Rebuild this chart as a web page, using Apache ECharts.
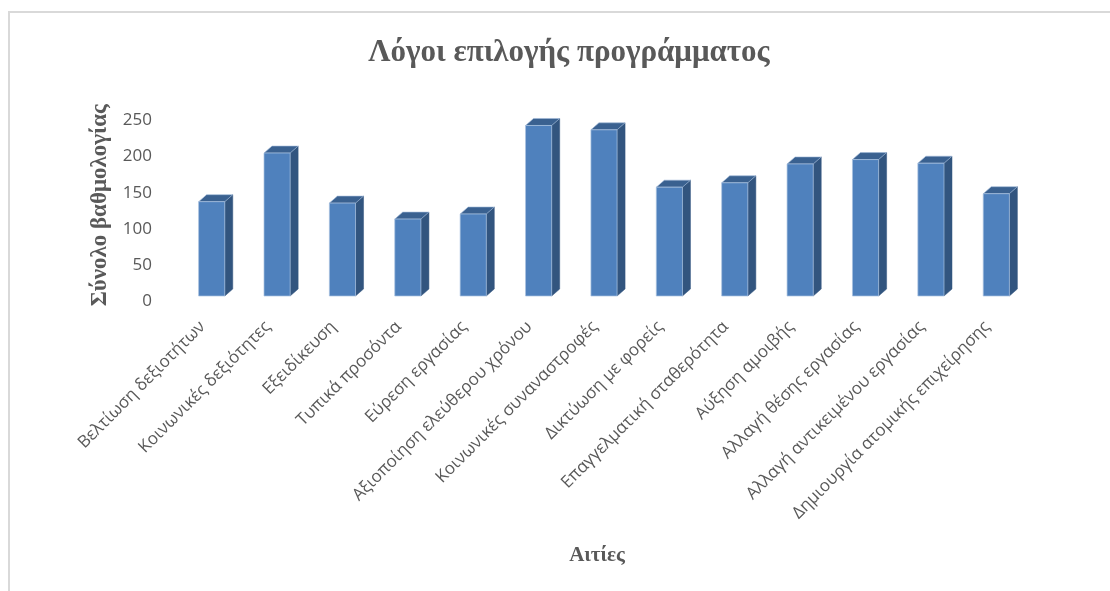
<!DOCTYPE html>
<html>
<head>
<meta charset="utf-8">
<script src="https://cdn.jsdelivr.net/npm/echarts@6/dist/echarts.min.js"></script>
<style>
  html, body { margin: 0; padding: 0; background: #ffffff; }
  #chart { width: 1110px; height: 591px; }
</style>
</head>
<body>
<div id="chart"></div>
<script>
// Reasons for choosing the programme: total score per reason
const categories = [
  'Βελτίωση δεξιοτήτων',
  'Κοινωνικές δεξιότητες',
  'Εξειδίκευση',
  'Τυπικά προσόντα',
  'Εύρεση εργασίας',
  'Αξιοποίηση ελεύθερου χρόνου',
  'Κοινωνικές συναναστροφές',
  'Δικτύωση με φορείς',
  'Επαγγελματική σταθερότητα',
  'Αύξηση αμοιβής',
  'Αλλαγή θέσης εργασίας',
  'Αλλαγή αντικειμένου εργασίας',
  'Δημιουργία ατομικής επιχείρησης'
];
const scores = [130, 197, 128, 106, 113, 235, 229, 150, 156, 182, 188, 183, 141];
const yTicks = { min: 0, max: 250, step: 50 };

const titleText = 'Λόγοι επιλογής προγράμματος';
const yName = 'Σύνολο βαθμολογίας';
const xName = 'Αιτίες';

const chart = echarts.init(document.getElementById('chart'), null, { renderer: 'canvas' });

// Column drawn as a box: front face, right side and top, offset for depth
const DEPTH_X = 8, DEPTH_Y = 7, BAR_RATIO = 0.4;
function renderBox(params, api) {
  const idx = api.value(0);
  const val = api.value(1);
  const top = api.coord([idx, val]);
  const base = api.coord([idx, 0]);
  const w = api.size([1, 0])[0] * BAR_RATIO;
  const x0 = top[0] - w / 2, x1 = top[0] + w / 2;
  const yT = top[1], yB = base[1];
  return {
    type: 'group',
    children: [
      {
        type: 'polygon',
        shape: { points: [[x1, yB], [x1, yT], [x1 + DEPTH_X, yT - DEPTH_Y], [x1 + DEPTH_X, yB - DEPTH_Y]] },
        style: { fill: '#32557f', stroke: '#32557f', lineWidth: 0.5 }
      },
      {
        type: 'polygon',
        shape: { points: [[x0, yT], [x1, yT], [x1 + DEPTH_X, yT - DEPTH_Y], [x0 + DEPTH_X, yT - DEPTH_Y]] },
        style: { fill: '#3a6190', stroke: '#9fb8d8', lineWidth: 0.6 }
      },
      {
        type: 'rect',
        shape: { x: x0, y: yT, width: w, height: yB - yT },
        style: { fill: '#4f81bd', stroke: '#a9c1df', lineWidth: 0.7 }
      }
    ]
  };
}

const option = {
  backgroundColor: '#ffffff',
  animation: false,
  title: {
    text: titleText,
    left: 564,
    textAlign: 'center',
    top: 32,
    textStyle: {
      fontFamily: 'Liberation Serif',
      fontWeight: 'bold',
      fontSize: 31,
      color: '#595959'
    }
  },
  graphic: [
    {
      type: 'rect',
      silent: true,
      shape: { x: 9, y: 12, width: 1200, height: 700 },
      style: { fill: 'none', stroke: '#d9d9d9', lineWidth: 2 }
    }
  ],
  grid: {
    left: 179,
    right: 81,
    top: 114.6,
    bottom: 295
  },
  xAxis: {
    type: 'category',
    data: categories,
    name: xName,
    nameLocation: 'middle',
    nameGap: 249,
    nameTextStyle: {
      fontFamily: 'Liberation Serif',
      fontWeight: 'bold',
      fontSize: 21,
      color: '#595959',
      padding: [0, 14, 0, 0]
    },
    axisLine: { show: false },
    axisTick: { show: false },
    axisLabel: {
      rotate: 45,
      interval: 0,
      margin: 19,
      fontFamily: 'Open Sans',
      fontSize: 17,
      color: '#595959',
      // trailing gap keeps each slanted label's end just left of its column
      formatter: (v) => v + '\u2002 '
    }
  },
  yAxis: {
    type: 'value',
    min: yTicks.min,
    max: yTicks.max,
    interval: yTicks.step,
    name: yName,
    nameLocation: 'middle',
    nameGap: 65,
    nameTextStyle: {
      fontFamily: 'Liberation Serif',
      fontWeight: 'bold',
      fontSize: 23,
      color: '#595959'
    },
    axisLine: { show: false },
    axisTick: { show: false },
    splitLine: { show: false },
    axisLabel: {
      margin: 27,
      fontFamily: 'Open Sans',
      fontSize: 17,
      color: '#595959',
      verticalAlign: 'top',
      lineHeight: 11
    }
  },
  series: [
    {
      type: 'custom',
      renderItem: renderBox,
      encode: { x: 0, y: 1 },
      data: scores.map((v, i) => [i, v])
    }
  ]
};

chart.setOption(option);
</script>
</body>
</html>
